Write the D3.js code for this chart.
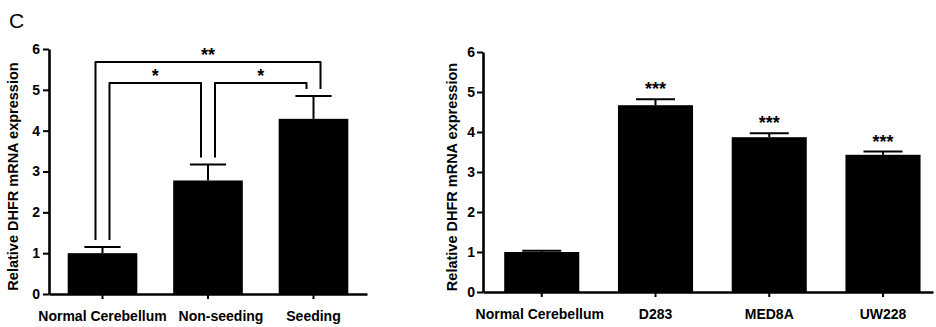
<!DOCTYPE html>
<html>
<head>
<meta charset="utf-8">
<script src="https://cdn.jsdelivr.net/npm/d3@7"></script>
<style>
  body { margin: 0; background: #fff; }
  svg { display: block; font-family: "Liberation Sans", Arial, sans-serif; }
</style>
</head>
<body>
<svg id="chart" width="936" height="327"></svg>
<script>
// left panel: tumours by seeding status
const leftGroups = ['Normal Cerebellum', 'Non-seeding', 'Seeding'];
const leftMeans = [1.0, 2.78, 4.29];
const leftErrors = [0.15, 0.39, 0.56];
// comparisons: [from, to, label, level]
const leftComparisons = [[0, 1, '*', 0], [1, 2, '*', 0], [0, 2, '**', 1]];
const bracketLevels = [5.17, 5.68];
// the figure nudges the middle label right so it clears its neighbour
const leftLabelShift = [0, 13, 0];

// right panel: cell lines
const rightGroups = ['Normal Cerebellum', 'D283', 'MED8A', 'UW228'];
const rightMeans = [1.0, 4.67, 3.87, 3.43];
const rightErrors = [0.03, 0.15, 0.10, 0.08];
const rightStars = ['', '***', '***', '***'];
const rightLabelShift = [-2, 0, 0, 0];

const yTicks = [0, 1, 2, 3, 4, 5, 6];
const yLabel = 'Relative DHFR mRNA expression';

const svg = d3.select('#chart');

svg.append('text')
    .attr('x', 9)
    .attr('y', 28)
    .attr('font-size', 21)
    .text('C');

function drawPanel(cfg) {
    const g = svg.append('g');
    const y = d3.scaleLinear().domain([0, 6]).range([cfg.yBottom, cfg.yTop]);
    const x = d3.scaleBand()
        .domain(cfg.groups)
        .range([cfg.x0, cfg.x1])
        .paddingInner(0.34)
        .paddingOuter(cfg.outer)
        .align(cfg.align);
    const bw = x.bandwidth();

    // bars
    g.selectAll('rect.bar')
        .data(cfg.groups)
        .enter()
        .append('rect')
        .attr('class', 'bar')
        .attr('x', d => x(d))
        .attr('width', bw)
        .attr('y', (d, i) => y(cfg.means[i]))
        .attr('height', (d, i) => y(0) - y(cfg.means[i]))
        .attr('fill', '#000');

    // error bars (upper only)
    const err = g.selectAll('g.err')
        .data(cfg.groups)
        .enter()
        .append('g')
        .attr('stroke', '#000')
        .attr('stroke-width', 2);
    err.append('line')
        .attr('x1', d => x(d) + bw / 2)
        .attr('x2', d => x(d) + bw / 2)
        .attr('y1', (d, i) => y(cfg.means[i]))
        .attr('y2', (d, i) => y(cfg.means[i] + cfg.errors[i]));
    err.append('line')
        .attr('x1', d => x(d) + bw / 2 - bw * 0.26)
        .attr('x2', d => x(d) + bw / 2 + bw * 0.26)
        .attr('y1', (d, i) => y(cfg.means[i] + cfg.errors[i]))
        .attr('y2', (d, i) => y(cfg.means[i] + cfg.errors[i]));

    // y axis
    const yAxis = g.append('g')
        .attr('transform', `translate(${cfg.x0},0)`)
        .call(d3.axisLeft(y)
            .tickValues(yTicks)
            .tickFormat(d3.format('d'))
            .tickSize(6)
            .tickSizeOuter(0)
            .tickPadding(cfg.yPad));
    yAxis.select('.domain').attr('stroke-width', 2.6);
    yAxis.selectAll('.tick line').attr('stroke-width', 2);
    yAxis.selectAll('.tick text')
        .attr('font-size', 14)
        .attr('font-weight', 'bold')
        .attr('font-family', '"Liberation Sans", Arial, sans-serif')
        .attr('fill', '#000');

    // x axis
    const xAxis = g.append('g')
        .attr('transform', `translate(0,${cfg.yBottom})`)
        .call(d3.axisBottom(x).tickSize(5).tickSizeOuter(0).tickPadding(12));
    xAxis.select('.domain').attr('stroke-width', 2.6);
    xAxis.selectAll('.tick line').attr('stroke-width', 2);
    xAxis.selectAll('.tick text')
        .attr('dx', (d, i) => cfg.labelShift[i])
        .attr('font-size', 14)
        .attr('font-weight', 'bold')
        .attr('font-family', '"Liberation Sans", Arial, sans-serif')
        .attr('fill', '#000');

    // y label
    g.append('text')
        .attr('transform', `translate(${cfg.labelX},${(cfg.yTop + cfg.yBottom) / 2 + 5}) rotate(-90)`)
        .attr('text-anchor', 'middle')
        .attr('font-size', 14.5)
        .attr('font-weight', 'bold')
        .text(yLabel);

    return { g, x, y, bw };
}

// ---------- left panel ----------
const L = drawPanel({
    groups: leftGroups, means: leftMeans, errors: leftErrors,
    x0: 49, x1: 367, yTop: 49, yBottom: 294,
    outer: 0.177, align: 0.5, yPad: 3, labelX: 17.5,
    labelShift: leftLabelShift
});

// bracket legs: order at each bar so lines don't cross
const ends = leftGroups.map(() => []);
leftComparisons.forEach((c, k) => {
    ends[c[0]].push({ k, key: 10 - c[3] });
    ends[c[1]].push({ k, key: c[3] });
});
const legX = {};
ends.forEach((list, i) => {
    list.sort((a, b) => a.key - b.key);
    const cx = L.x(leftGroups[i]) + L.bw / 2;
    list.forEach((e, j) => {
        legX[`${e.k}-${i}`] = cx + (j - (list.length - 1) / 2) * 14;
    });
});

leftComparisons.forEach((c, k) => {
    const [a, b, label, level] = c;
    const xa = legX[`${k}-${a}`];
    const xb = legX[`${k}-${b}`];
    const yl = L.y(bracketLevels[level]);
    const ya = L.y(leftMeans[a] + leftErrors[a]) - 7;
    const yb = L.y(leftMeans[b] + leftErrors[b]) - 7;
    L.g.append('path')
        .attr('d', `M${xa},${ya}V${yl}H${xb}V${yb}`)
        .attr('fill', 'none')
        .attr('stroke', '#000')
        .attr('stroke-width', 2)
        .attr('stroke-linejoin', 'round');
    const xm = (L.x(leftGroups[a]) + L.x(leftGroups[b]) + L.bw) / 2;
    L.g.append('text')
        .attr('x', xm)
        .attr('y', yl - 1)
        .attr('text-anchor', 'middle')
        .attr('font-size', 18)
        .attr('font-weight', 'bold')
        .text(label);
});

// ---------- right panel ----------
const R = drawPanel({
    groups: rightGroups, means: rightMeans, errors: rightErrors,
    x0: 483, x1: 933, yTop: 52, yBottom: 292,
    outer: 0.148, align: 0.63, yPad: 2, labelX: 457,
    labelShift: rightLabelShift
});

R.g.selectAll('text.star')
    .data(rightGroups)
    .enter()
    .append('text')
    .attr('class', 'star')
    .attr('x', d => R.x(d) + R.bw / 2)
    .attr('y', (d, i) => R.y(rightMeans[i] + rightErrors[i]) - 4)
    .attr('text-anchor', 'middle')
    .attr('font-size', 18)
    .attr('font-weight', 'bold')
    .text((d, i) => rightStars[i]);
</script>
</body>
</html>
